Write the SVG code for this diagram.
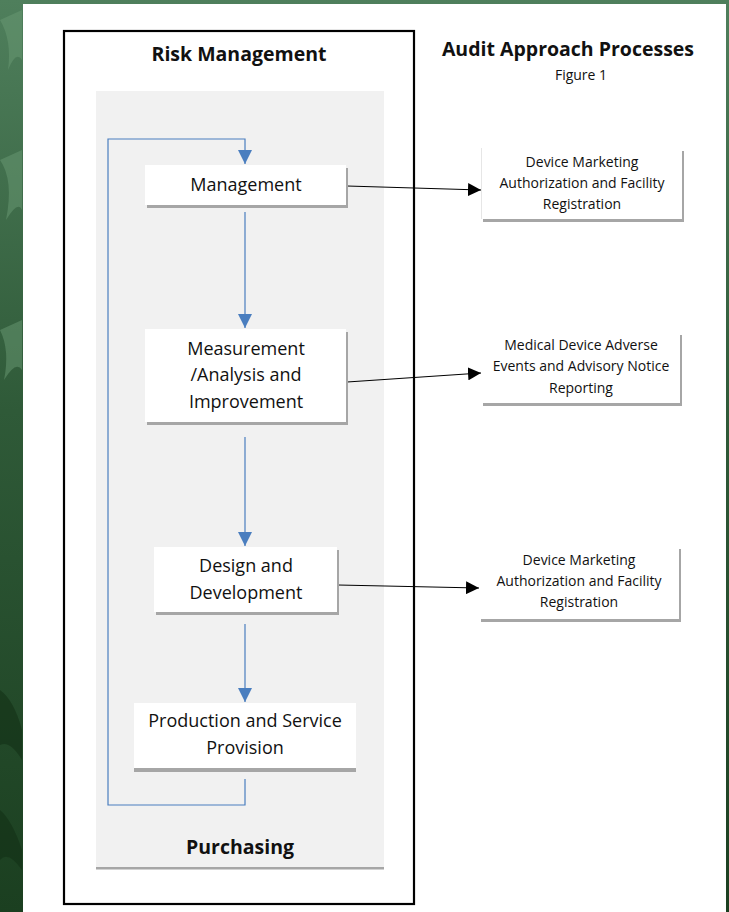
<svg xmlns="http://www.w3.org/2000/svg" width="729" height="912" viewBox="0 0 729 912">
<defs>
<linearGradient id="bg" x1="0" y1="0" x2="0" y2="1">
<stop offset="0" stop-color="#4f7f5c"/>
<stop offset="0.45" stop-color="#2f5a38"/>
<stop offset="1" stop-color="#1b3f20"/>
</linearGradient>
<marker id="ab" viewBox="0 0 10 10" refX="10" refY="5" markerWidth="14" markerHeight="14" markerUnits="userSpaceOnUse" orient="auto">
<path d="M0,0 L10,5 L0,10 z" fill="#4a7ebf"/>
</marker>
<marker id="ak" viewBox="0 0 10 10" refX="10" refY="5" markerWidth="13" markerHeight="13" markerUnits="userSpaceOnUse" orient="auto">
<path d="M0,0 L10,5 L0,10 z" fill="#000"/>
</marker>
</defs>
<style>
.t{font-family:"Open Sans","Noto Sans","Liberation Sans",sans-serif;fill:#111;text-anchor:middle}
.n{font-size:18px}
.s{font-size:14px}
.b{font-size:19.5px;font-weight:bold}
.box{fill:#fff}
.sh{fill:#a6a6a6}
.blue{stroke:#4a7ebf;stroke-width:1.2;fill:none}
.blk{stroke:#000;stroke-width:1.2;fill:none}
</style>
<rect x="0" y="0" width="729" height="912" fill="url(#bg)"/>
<g fill="#6a9a74" opacity="0.5">
<path d="M0,20 Q12,40 8,70 Q16,50 22,60 L22,10 Z"/>
<path d="M0,160 Q14,180 6,220 Q18,200 22,210 L22,150 Z"/>
<path d="M0,330 Q10,350 4,380 Q16,360 22,370 L22,320 Z"/>
</g>
<g fill="#123016" opacity="0.6">
<path d="M0,690 Q14,700 22,730 L22,760 Q10,740 0,745 Z"/>
<path d="M0,810 Q12,820 22,850 L22,870 Q8,850 0,860 Z"/>
</g>
<rect x="23" y="4" width="703" height="908" fill="#fff"/>
<rect x="64" y="31" width="350" height="873" fill="none" stroke="#000" stroke-width="2.2"/>
<rect x="96" y="91" width="288" height="778" fill="#f1f1f1"/>
<rect x="96" y="867" width="288" height="2.5" fill="#a6a6a6"/>
<text class="t b" x="239" y="61">Risk Management</text>
<text class="t b" x="568" y="56">Audit Approach Processes</text>
<text class="t s" x="581" y="80">Figure 1</text>
<text class="t b" x="240" y="854">Purchasing</text>
<g id="connectors">
<polyline class="blue" points="245,779 245,805 108,805 108,139 245,139 245,164" marker-end="url(#ab)"/>
<line class="blue" x1="245" y1="212" x2="245" y2="328" marker-end="url(#ab)"/>
<line class="blue" x1="245" y1="437" x2="245" y2="546" marker-end="url(#ab)"/>
<line class="blue" x1="245" y1="624" x2="245" y2="702" marker-end="url(#ab)"/>
<line class="blk" x1="347" y1="186" x2="481" y2="190" marker-end="url(#ak)"/>
<line class="blk" x1="347" y1="382" x2="481" y2="373" marker-end="url(#ak)"/>
<line class="blk" x1="338" y1="585" x2="479" y2="588" marker-end="url(#ak)"/>
</g>
<g id="management">
<rect class="sh" x="147" y="168" width="201" height="40"/>
<rect class="box" x="145" y="165" width="201" height="40"/>
<text class="t n" x="246" y="191">Management</text>
</g>
<g id="measurement">
<rect class="sh" x="147" y="332" width="201" height="93"/>
<rect class="box" x="145" y="329" width="201" height="93"/>
<text class="t n" x="246" y="355">Measurement</text>
<text class="t n" x="246" y="381">/Analysis and</text>
<text class="t n" x="246" y="408">Improvement</text>
</g>
<g id="design">
<rect class="sh" x="156" y="550" width="183" height="65"/>
<rect class="box" x="154" y="547" width="183" height="65"/>
<text class="t n" x="246" y="572">Design and</text>
<text class="t n" x="246" y="599">Development</text>
</g>
<g id="production">
<rect class="sh" x="134" y="706" width="222" height="66"/>
<rect class="box" x="134" y="703" width="222" height="65"/>
<text class="t n" x="245" y="727">Production and Service</text>
<text class="t n" x="245" y="754">Provision</text>
</g>
<g id="dmar1">
<rect class="sh" x="483" y="151" width="201" height="71"/>
<rect fill="#e6e6e6" x="481" y="148" width="201" height="71"/>
<rect class="box" x="482" y="148" width="200" height="71"/>
<text class="t s" x="582" y="167">Device Marketing</text>
<text class="t s" x="582" y="188">Authorization and Facility</text>
<text class="t s" x="582" y="209">Registration</text>
</g>
<g id="mdae">
<rect class="sh" x="483" y="335" width="199" height="71"/>
<rect class="box" x="481" y="332" width="199" height="71"/>
<text class="t s" x="581" y="350">Medical Device Adverse</text>
<text class="t s" x="581" y="371">Events and Advisory Notice</text>
<text class="t s" x="581" y="393">Reporting</text>
</g>
<g id="dmar2">
<rect class="sh" x="481" y="549" width="200" height="73"/>
<rect class="box" x="479" y="546" width="200" height="73"/>
<text class="t s" x="579" y="565">Device Marketing</text>
<text class="t s" x="579" y="586">Authorization and Facility</text>
<text class="t s" x="579" y="607">Registration</text>
</g>
</svg>
